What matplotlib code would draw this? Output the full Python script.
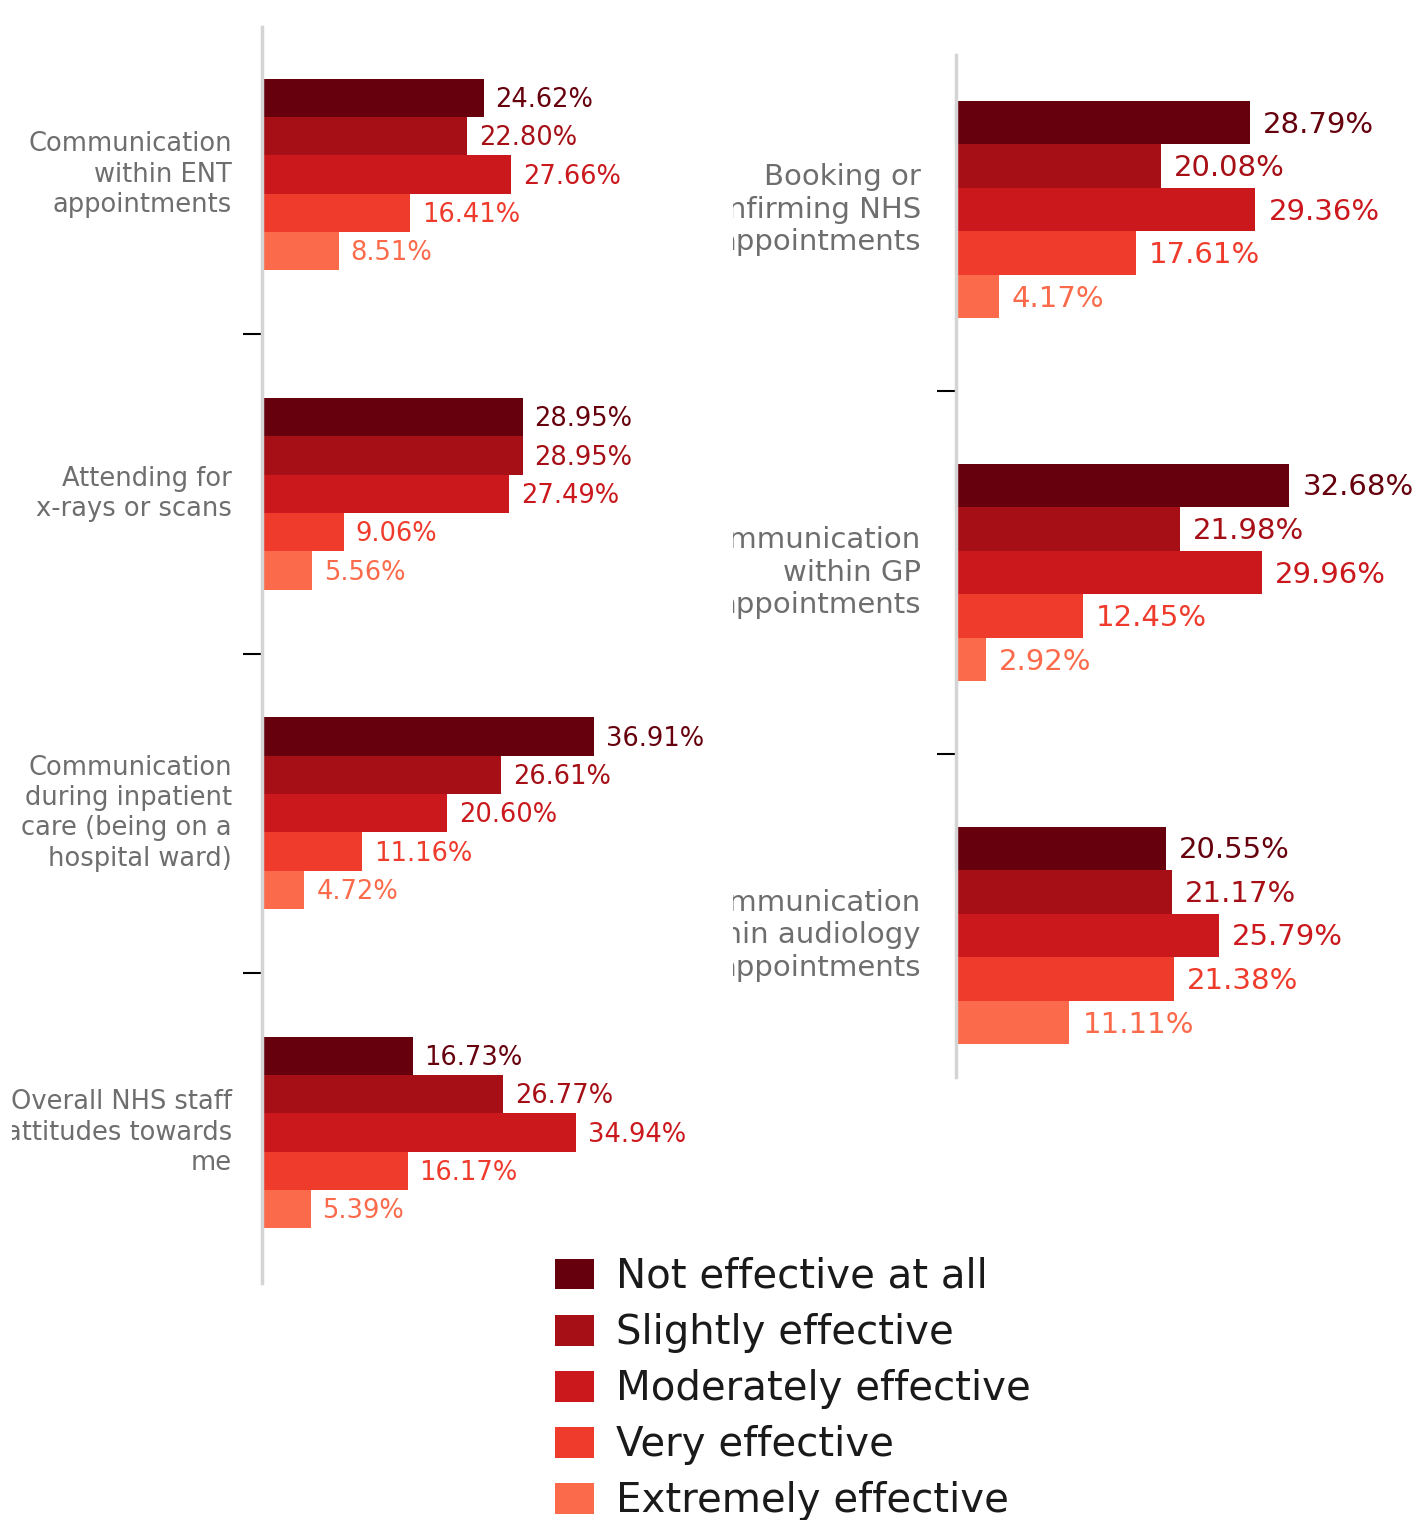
import matplotlib
matplotlib.use("Agg")
import numpy as np
from matplotlib import pyplot as plt
from matplotlib.patches import Patch
from matplotlib.transforms import Bbox, TransformedBbox, offset_copy

plt.rcParams['font.family'] = ['DejaVu Sans']

series = ['Not effective at all', 'Slightly effective', 'Moderately effective',
          'Very effective', 'Extremely effective']
colors = ['#67000d', '#a50f15', '#cb181d', '#ef3b2c', '#fb6a4a']

left_cats = ['Communication\nwithin ENT\nappointments',
             'Attending for\nx-rays or scans',
             'Communication\nduring inpatient\ncare (being on a\nhospital ward)',
             'Overall NHS staff\nattitudes towards\nme']
left_vals = [
    [24.62, 28.95, 36.91, 16.73],   # Not effective at all
    [22.80, 28.95, 26.61, 26.77],   # Slightly effective
    [27.66, 27.49, 20.60, 34.94],   # Moderately effective
    [16.41, 9.06, 11.16, 16.17],    # Very effective
    [8.51, 5.56, 4.72, 5.39],       # Extremely effective
]

right_cats = ['Booking or\nconfirming NHS\nappointments',
              'Communication\nwithin GP\nappointments',
              'Communication\nwithin audiology\nappointments']
right_vals = [
    [28.79, 32.68, 20.55],
    [20.08, 21.98, 21.17],
    [29.36, 29.96, 25.79],
    [17.61, 12.45, 21.38],
    [4.17, 2.92, 11.11],
]

W, H = 1417, 1520
fig = plt.figure(figsize=(W / 100, H / 100), dpi=100)


def fx(px):
    return px / W


def panel(rect, cats, vals, xmax, ylim, fs, pad_px, clip_x, gap_px):
    ax = fig.add_axes(rect)
    n = len(cats)
    y = np.arange(n)
    bh = 0.12
    for j, (s, c) in enumerate(zip(series, colors)):
        pos = y - 0.3 + bh * j + bh / 2
        ax.barh(pos, vals[j], height=bh, color=c, linewidth=0)
        off = offset_copy(ax.transData, fig=fig, x=gap_px, y=-2, units='dots')
        for p, v in zip(pos, vals[j]):
            ax.text(v, p, f'{v:.2f}%', transform=off, ha='left', va='center',
                    fontsize=fs, color=c)
    ax.set_xlim(0, xmax)
    ax.set_ylim(*ylim)
    for s in ['top', 'right', 'bottom']:
        ax.spines[s].set_visible(False)
    ax.spines['left'].set_color('#d4d4d4')
    ax.spines['left'].set_linewidth(2.5)
    ax.set_xticks([])
    ax.set_yticks([])
    ax.set_yticks(np.arange(n - 1) + 0.5, minor=True)
    ax.tick_params(axis='y', which='minor', length=13.5, width=1.5,
                   color='black', direction='out')
    ax.yaxis.set_minor_formatter(plt.NullFormatter())
    clip = TransformedBbox(Bbox.from_extents(fx(clip_x), 0, rect[0], 1),
                           fig.transFigure)
    lab_tr = offset_copy(ax.get_yaxis_transform(), fig=fig, x=-pad_px, y=0,
                         units='dots')
    for i, cat in enumerate(cats):
        t = ax.text(0, i, cat, transform=lab_tr, ha='right', va='center',
                    multialignment='right', fontsize=fs, color='#6e6e6e',
                    linespacing=1.22)
        t.set_clip_box(clip)
        t.set_clip_on(True)
    return ax


# left panel
panel([fx(262), 1 - 1283 / H, fx(450), 1256 / H], left_cats, left_vals,
      50, (3.471, -0.462), 18.5, 30, 12, 12)

# right panel
panel([fx(956), 1 - 1077 / H, fx(459), 1022 / H], right_cats, right_vals,
      45, (2.39, -0.426), 21, 35, 733, 13)

handles = [Patch(facecolor=c, edgecolor='none') for c in colors]
fig.legend(handles, series, loc='upper left',
           bbox_to_anchor=(fx(555), 1 - 1257 / H), frameon=False,
           fontsize=29, handlelength=0.97, handleheight=0.8,
           handletextpad=0.55, labelspacing=0.4, borderpad=0,
           borderaxespad=0, labelcolor='#1a1a1a')

fig.savefig('out.png', dpi=100, facecolor='white')
